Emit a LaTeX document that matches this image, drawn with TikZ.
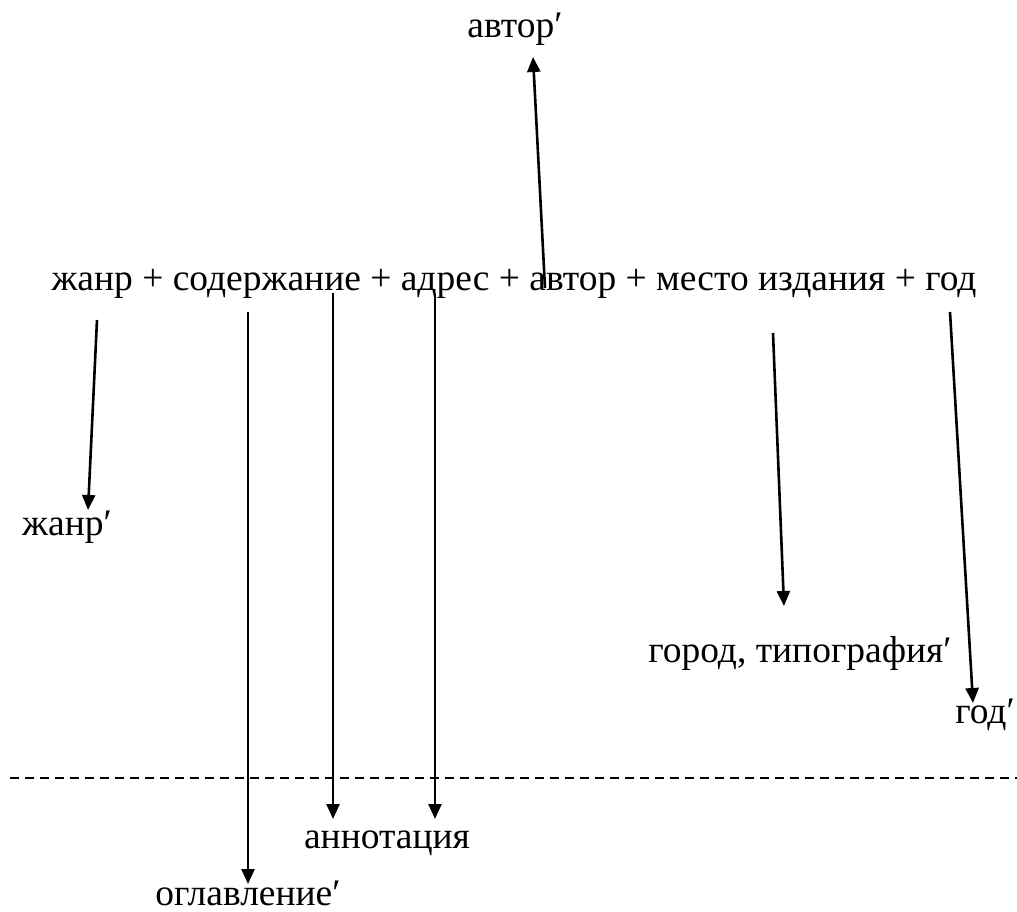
\documentclass[tikz,border=0pt]{standalone}
\usepackage{fontspec}
\setmainfont{Liberation Serif}
\usetikzlibrary{arrows.meta}
\begin{document}
\begin{tikzpicture}[x=1pt,y=-1pt,
  lbl/.style={inner sep=0pt,anchor=base,font=\rmfamily\fontsize{37.5}{42}\selectfont},
  arr/.style={line width=2.6pt,-{Triangle[length=15pt,width=13pt]}},
  dline/.style={line width=1.4pt,dash pattern=on 9pt off 6pt}]
\useasboundingbox (0,0) rectangle (1017,912);
\node[lbl] (main) at (514,290) {жанр + содержание + адрес + автор + место издания + год};
\node[lbl] (avtor) at (515,38) {автор′};
\node[lbl] (zhanr) at (67,535) {жанр′};
\node[lbl] (gorod) at (800,662) {город, типография′};
\node[lbl] (god) at (985,723) {год′};
\node[lbl] (annot) at (387,848) {аннотация};
\node[lbl] (oglav) at (248,905) {оглавление′};
% start and end points
\coordinate (sA) at (545,288);  \coordinate (eA) at (533,57);
\coordinate (sZ) at (97,320);   \coordinate (eZ) at (88,510);
\coordinate (sO) at (248,312);  \coordinate (eO) at (248,884);
\coordinate (sN1) at (333,293); \coordinate (eN1) at (333,819);
\coordinate (sN2) at (435,293); \coordinate (eN2) at (435,819);
\coordinate (sG) at (773,333);  \coordinate (eG) at (784,606);
\coordinate (sY) at (950,312);  \coordinate (eY) at (973,703);
\coordinate (dL) at (10,778);   \coordinate (dR) at (1017,778);
\draw[arr] (sA) -- (eA);
\draw[arr] (sZ) -- (eZ);
\draw[arr] (sO) -- (eO);
\draw[arr] (sN1) -- (eN1);
\draw[arr] (sN2) -- (eN2);
\draw[arr] (sG) -- (eG);
\draw[arr] (sY) -- (eY);
\draw[dline] (dL) -- (dR);
\end{tikzpicture}
\end{document}
